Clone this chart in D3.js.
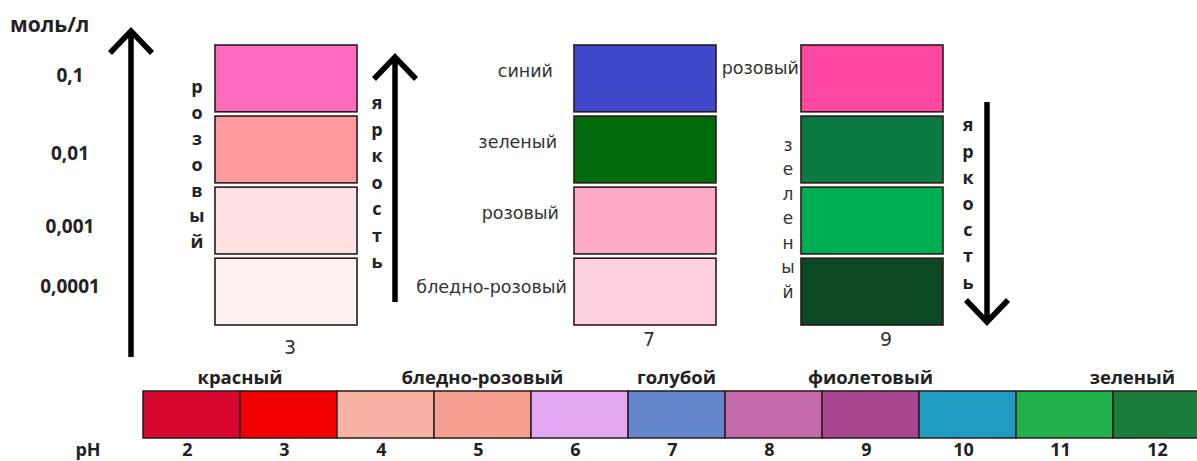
<!DOCTYPE html>
<html>
<head>
<meta charset="utf-8">
<script src="https://cdn.jsdelivr.net/npm/d3@7"></script>
<style>
  body { margin: 0; background: #fff; }
  .bold { font-family: "Open Sans", sans-serif; font-weight: 700; fill: #222; }
  .reg { font-family: "DejaVu Sans", sans-serif; fill: #333; }
</style>
</head>
<body>
<svg id="chart" width="1197" height="461"></svg>
<script>
// pH strip at the bottom
var phValues = [2, 3, 4, 5, 6, 7, 8, 9, 10, 11, 12];
var phColors = ["#d6062f", "#f20000", "#f8b2a4", "#f6a092", "#e2a8f4", "#6486cc",
                "#c46aa8", "#a6468e", "#1f9cc2", "#22b04c", "#1b7c3c"];
var colorNames = ["красный", "бледно-розовый", "голубой", "фиолетовый", "зеленый"];
var colorNamePh = [2.5, 5, 7, 9, 11.7];

// concentration rows and the three tube columns
var concentrations = ["0,1", "0,01", "0,001", "0,0001"];
var columns = ["3", "7", "9"];
var col3Colors = ["#ff6bbd", "#ff9b9e", "#ffe1e1", "#fff0f0"];
var col7Colors = ["#3f47cb", "#006b0c", "#ffabc7", "#ffd0df"];
var col9Colors = ["#ff47a2", "#0b7a40", "#00ae52", "#0b4823"];
var col7Names = ["синий", "зеленый", "розовый", "бледно-розовый"];

var svg = d3.select("#chart");

var y = d3.scaleBand()
    .domain(concentrations)
    .range([45, 325])
    .paddingInner(0.06);

// left edge of every tube column
var colX = d3.scaleOrdinal()
    .domain(columns)
    .range([215, 574, 801]);
var colW = 142;

var x = d3.scaleBand()
    .domain(phValues)
    .range([143, 143 + 97 * phValues.length]);

var phPos = d3.scaleLinear()
    .domain([1.5, 12.5])
    .range([143, 143 + 97 * phValues.length]);

function arrow(x0, yFrom, yTo) {
    var dir = yTo < yFrom ? 1 : -1;
    svg.append("path")
        .attr("d", "M" + x0 + "," + yFrom + "L" + x0 + "," + yTo +
            "M" + (x0 - 21) + "," + (yTo + dir * 22) + "L" + x0 + "," + yTo +
            "L" + (x0 + 21) + "," + (yTo + dir * 22))
        .attr("fill", "none")
        .attr("stroke", "#000")
        .attr("stroke-width", 5.5)
        .attr("stroke-linejoin", "miter")
        .attr("stroke-linecap", "butt");
}

function vertical(word, cx, y0, step, cls, size) {
    svg.append("g").selectAll("text")
        .data(word.split(""))
        .enter()
        .append("text")
        .attr("class", cls)
        .attr("x", cx)
        .attr("y", function (d, i) { return y0 + i * step; })
        .attr("text-anchor", "middle")
        .attr("dy", "0.35em")
        .style("font-size", size + "px")
        .text(function (d) { return d; });
}

// concentration axis
svg.append("text")
    .attr("class", "bold")
    .attr("x", 10)
    .attr("y", 25)
    .attr("dy", "0.35em")
    .style("font-size", "21px")
    .text("моль/л");

var concShift = [-3, 4, 6, -5];
svg.selectAll(".conc")
    .data(concentrations)
    .enter()
    .append("text")
    .attr("class", "bold conc")
    .attr("x", 70)
    .attr("y", function (d, i) { return y(d) + y.bandwidth() / 2 + concShift[i]; })
    .attr("text-anchor", "middle")
    .attr("dy", "0.35em")
    .style("font-size", "19px")
    .text(function (d) { return d; });

arrow(131, 357, 31);

// tube columns
var colData = [col3Colors, col7Colors, col9Colors];
columns.forEach(function (c, ci) {
    svg.append("g").selectAll("rect")
        .data(concentrations)
        .enter()
        .append("rect")
        .attr("x", colX(c))
        .attr("y", function (d) { return y(d); })
        .attr("width", colW)
        .attr("height", y.bandwidth())
        .attr("fill", function (d, i) { return colData[ci][i]; })
        .attr("stroke", "#2a1a1a")
        .attr("stroke-width", 1.6);

    svg.append("text")
        .attr("class", "reg")
        .attr("x", colX(c) + colW / 2 + (c == "9" ? 14 : 4))
        .attr("y", c == "3" ? 347 : 339)
        .attr("text-anchor", "middle")
        .attr("dy", "0.35em")
        .style("font-size", "19px")
        .text(c);
});

// pH 7 labels
var c7End = [21, 17, 15, 7];
svg.selectAll(".c7")
    .data(concentrations)
    .enter()
    .append("text")
    .attr("class", "reg c7")
    .attr("x", function (d, i) { return colX("7") - c7End[i]; })
    .attr("y", function (d, i) { return y(d) + y.bandwidth() / 2 - (i == 3 ? 5 : 8); })
    .attr("text-anchor", "end")
    .attr("dy", "0.35em")
    .style("font-size", "17.5px")
    .text(function (d, i) { return col7Names[i]; });

// pH 3 annotations
vertical("розовый", 197, 87, 25.8, "bold", 18);
vertical("яркость", 377, 103, 26.5, "bold", 18);
arrow(395, 302, 57);

// pH 9 annotations
svg.append("text")
    .attr("class", "reg")
    .attr("x", colX("9") - 2)
    .attr("y", y(concentrations[0]) + 23)
    .attr("text-anchor", "end")
    .attr("dy", "0.35em")
    .style("font-size", "17.5px")
    .text("розовый");
vertical("зеленый", 788, 145, 24.5, "reg", 17);
vertical("яркость", 968, 125, 26.2, "bold", 18);
arrow(987, 102, 322);

// pH strip
svg.append("g").selectAll("rect")
    .data(phValues)
    .enter()
    .append("rect")
    .attr("x", function (d) { return x(d); })
    .attr("y", 391)
    .attr("width", x.bandwidth())
    .attr("height", 47)
    .attr("fill", function (d, i) { return phColors[i]; })
    .attr("stroke", "#2a1a1a")
    .attr("stroke-width", 1.5);

svg.append("g").selectAll("text")
    .data(phValues)
    .enter()
    .append("text")
    .attr("class", "bold")
    .attr("x", function (d) { return x(d) + x.bandwidth() / 2 - 4; })
    .attr("y", 456)
    .attr("text-anchor", "middle")
    .style("font-size", "18px")
    .text(function (d) { return d; });

svg.append("text")
    .attr("class", "bold")
    .attr("x", 88)
    .attr("y", 456)
    .attr("text-anchor", "middle")
    .style("font-size", "18px")
    .text("pH");

svg.append("g").selectAll("text")
    .data(colorNames)
    .enter()
    .append("text")
    .attr("class", "bold")
    .attr("x", function (d, i) { return phPos(colorNamePh[i]); })
    .attr("y", 378)
    .attr("text-anchor", "middle")
    .attr("dy", "0.35em")
    .style("font-size", "18.5px")
    .text(function (d) { return d; });
</script>
</body>
</html>
